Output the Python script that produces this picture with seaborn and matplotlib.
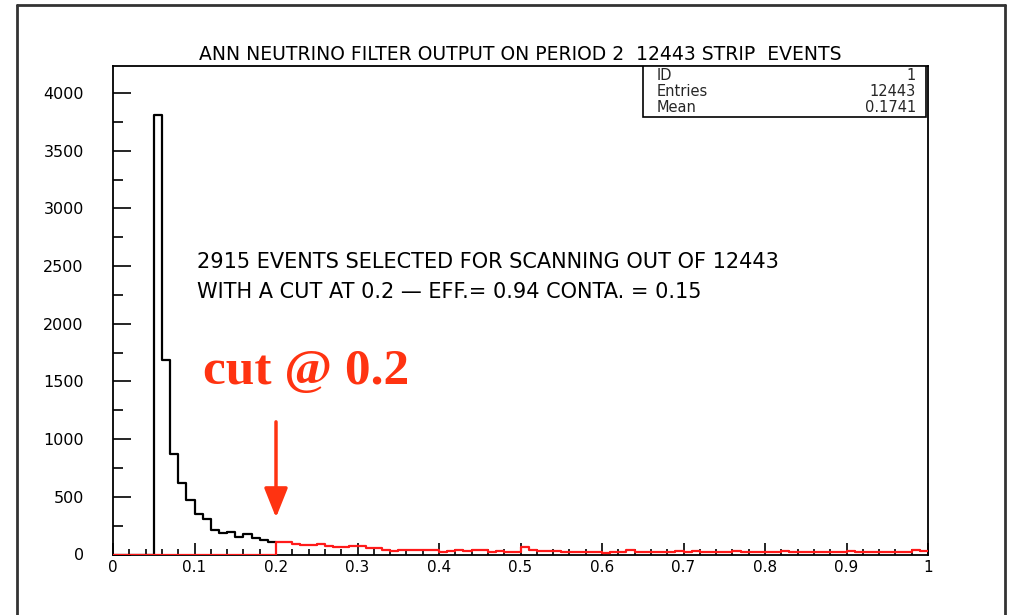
import numpy as np
import pandas as pd
import matplotlib
matplotlib.use("Agg")
import matplotlib.pyplot as plt
import seaborn as sns
from matplotlib.lines import Line2D

# ---- data ----
bin_width = 0.01
# black histogram: counts for bins starting at 0.00 ... 0.19
black_counts = [0, 0, 0, 0, 0, 3810, 1688, 874, 620, 476,
                355, 312, 216, 188, 199, 153, 182, 144, 130, 107]
# red histogram: counts for bins starting at 0.20 ... 0.99 (zero below 0.2)
red_tail = [107, 107, 92, 84, 84, 95, 72, 61, 61, 72,
            72, 55, 55, 43, 30, 37, 37, 37, 37, 37,
            20, 29, 43, 29, 43, 43, 20, 29, 22, 22,
            66, 43, 33, 33, 33, 25, 25, 25, 25, 25,
            14, 25, 25, 36, 25, 25, 18, 25, 18, 28,
            25, 30, 25, 25, 25, 25, 28, 25, 25, 18,
            25, 25, 28, 25, 25, 20, 25, 25, 25, 25,
            28, 25, 25, 25, 25, 25, 25, 25, 36, 30]
red_counts = [0] * 20 + red_tail

title = "ANN NEUTRINO FILTER OUTPUT ON PERIOD 2  12443 STRIP  EVENTS"
note1 = "2915 EVENTS SELECTED FOR SCANNING OUT OF 12443"
note2 = "WITH A CUT AT 0.2 \u2014 EFF.= 0.94 CONTA. = 0.15"
stats_labels = ["ID", "Entries", "Mean"]
stats_values = ["1", "12443", "0.1741"]
cut_label = "cut @ 0.2"
cut_value = 0.2

x_ticks = [0, 0.1, 0.2, 0.3, 0.4, 0.5, 0.6, 0.7, 0.8, 0.9, 1.0]
x_tick_labels = ["0", "0.1", "0.2", "0.3", "0.4", "0.5", "0.6", "0.7", "0.8", "0.9", "1"]
y_ticks = [0, 500, 1000, 1500, 2000, 2500, 3000, 3500, 4000]

# ---- plotting ----
sns.set_theme(style="white")
plt.rcParams["font.family"] = ["DejaVu Sans"]

fig = plt.figure(figsize=(10.15, 6.15), dpi=100)
ax_top_px, ax_bot_px = 66, 554.5
ax = fig.add_axes([113 / 1015, 1 - ax_bot_px / 615, (928 - 113) / 1015,
                   (ax_bot_px - ax_top_px) / 615])

nb = len(black_counts)
df_black = pd.DataFrame({"x": (np.arange(nb) + 0.5) * bin_width, "w": black_counts})
nr = len(red_counts)
df_red = pd.DataFrame({"x": (np.arange(nr) + 0.5) * bin_width, "w": red_counts})

sns.histplot(data=df_black, x="x", weights="w", binwidth=bin_width,
             binrange=(0.0, nb * bin_width),
             element="step", fill=False, color="black", linewidth=1.6, ax=ax, zorder=3)
sns.histplot(data=df_red, x="x", weights="w", binwidth=bin_width,
             binrange=(0.0, nr * bin_width),
             element="step", fill=False, color="#ff1a1a", linewidth=1.6, ax=ax, zorder=4)

ax.set_xlim(0, 1)
ax.set_ylim(0, 4235)
ax.set_xlabel("")
ax.set_ylabel("")
ax.set_xticks(x_ticks)
ax.set_xticklabels(x_tick_labels)
ax.set_xticks(np.arange(0, 1.0001, 0.02), minor=True)
ax.set_yticks(y_ticks)
ax.set_yticks(np.arange(0, 4235, 250), minor=True)
ax.tick_params(axis="both", which="both", direction="in", width=1.2, color="black",
               bottom=True, left=True, top=False, right=False)
ax.tick_params(axis="y", which="major", length=13, labelsize=11.5, labelcolor="black", pad=21)
ax.tick_params(axis="y", which="minor", length=7)
ax.tick_params(axis="x", which="major", length=9, labelsize=11, labelcolor="black", pad=4)
ax.tick_params(axis="x", which="minor", length=4.5)
for s in ax.spines.values():
    s.set_color("black")
    s.set_linewidth(1.3)

ax.set_title(title, fontsize=13.5, color="black", pad=4)

ax.text(0.103, 2537, note1, fontsize=15, color="black", va="center", ha="left")
ax.text(0.103, 2277, note2, fontsize=15, color="black", va="center", ha="left")

ax.text(0.11, 1584, cut_label, fontsize=37, fontweight="bold", color="#ff3311",
        family="Liberation Serif", va="center", ha="left")
ax.annotate("", xy=(cut_value, 320), xytext=(cut_value, 1150),
            arrowprops=dict(arrowstyle="-|>,head_length=1.5,head_width=0.6",
                            color="#ff3311", lw=2.5, shrinkA=0, shrinkB=0))

# statistics box
ax_h_px = ax_bot_px - ax_top_px
bx0, by0 = (643 - 113) / 815, (ax_bot_px - 117) / ax_h_px
ax.add_patch(plt.Rectangle((bx0, by0), 0.997 - bx0, 1 - by0, transform=ax.transAxes,
                           fill=True, facecolor="white", edgecolor="black", lw=1.2, zorder=5))
for i, (lab, val) in enumerate(zip(stats_labels, stats_values)):
    yy = 1 - (75 + 16 * i - ax_top_px) / ax_h_px
    ax.text(bx0 + 0.017, yy, lab, transform=ax.transAxes, fontsize=10.5, va="center",
            ha="left", zorder=6)
    ax.text(0.985, yy, val, transform=ax.transAxes, fontsize=10.5, va="center",
            ha="right", zorder=6)

# page frame
fig.add_artist(Line2D([17 / 1015, 17 / 1015], [0, 1 - 5 / 615], transform=fig.transFigure,
                      color="#333333", lw=2))
fig.add_artist(Line2D([17 / 1015, 1005 / 1015], [1 - 5 / 615, 1 - 5 / 615],
                      transform=fig.transFigure, color="#333333", lw=2))
fig.add_artist(Line2D([1005 / 1015, 1005 / 1015], [0, 1 - 5 / 615], transform=fig.transFigure,
                      color="#333333", lw=2))

fig.savefig("out.png", dpi=100, facecolor="white")
